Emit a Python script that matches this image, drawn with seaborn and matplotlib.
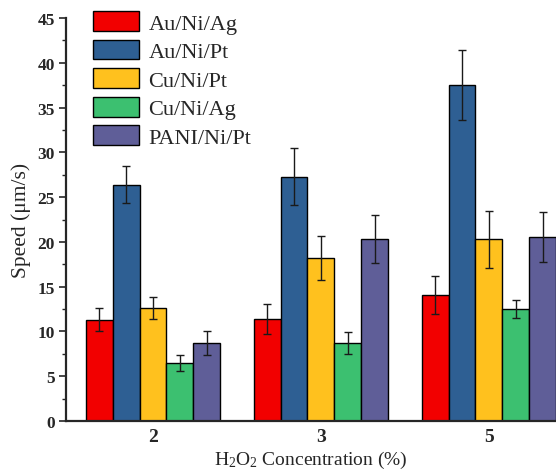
import numpy as np
import pandas as pd
import matplotlib
matplotlib.use("Agg")
import matplotlib.pyplot as plt
from matplotlib.ticker import MultipleLocator
import seaborn as sns

# ---- data ----
concentrations = ["2", "3", "5"]
materials = ["Au/Ni/Ag", "Au/Ni/Pt", "Cu/Ni/Pt", "Cu/Ni/Ag", "PANI/Ni/Pt"]
au_ni_ag = [11.3, 11.4, 14.1]
au_ni_pt = [26.4, 27.3, 37.5]
cu_ni_pt = [12.6, 18.2, 20.3]
cu_ni_ag = [6.5, 8.7, 12.5]
pani_ni_pt = [8.7, 20.3, 20.5]
au_ni_ag_err = [1.3, 1.7, 2.1]
au_ni_pt_err = [2.1, 3.2, 3.9]
cu_ni_pt_err = [1.2, 2.5, 3.2]
cu_ni_ag_err = [0.9, 1.2, 1.0]
pani_ni_pt_err = [1.3, 2.7, 2.8]
colors = ["#F20000", "#2E5F93", "#FFC11E", "#3CC070", "#5F5E98"]

values = [au_ni_ag, au_ni_pt, cu_ni_pt, cu_ni_ag, pani_ni_pt]
errors = [au_ni_ag_err, au_ni_pt_err, cu_ni_pt_err, cu_ni_ag_err, pani_ni_pt_err]

rows = []
for m, vals in zip(materials, values):
    for c, v in zip(concentrations, vals):
        rows.append({"conc": c, "speed": v, "material": m})
df = pd.DataFrame(rows)

sns.set_style("ticks")
plt.rcParams["font.family"] = ["Liberation Serif", "DejaVu Serif"]
plt.rcParams["mathtext.fontset"] = "custom"
plt.rcParams["mathtext.rm"] = "Liberation Serif"
plt.rcParams["mathtext.it"] = "Liberation Serif:italic"

fig = plt.figure(figsize=(5.56, 4.77), dpi=100)
ax = fig.add_axes([66/556, 1-422/477, 1-66/556, (422-19)/477])

sns.barplot(data=df, x="conc", y="speed", hue="material", order=concentrations,
            hue_order=materials, palette=colors, edgecolor="black", linewidth=1.0,
            width=0.8, errorbar=None, ax=ax, saturation=1)

for cont, errs in zip(ax.containers, errors):
    xs = [p.get_x() + p.get_width()/2 for p in cont.patches]
    hs = [p.get_height() for p in cont.patches]
    ax.errorbar(xs, hs, yerr=errs, fmt="none", ecolor="#1a1a1a", elinewidth=1.0,
                capsize=3, capthick=1.0, zorder=5)

ax.set_ylim(0, 45)
ax.set_xlim(-0.518, 2.40)
ax.yaxis.set_major_locator(MultipleLocator(5))
ax.yaxis.set_minor_locator(MultipleLocator(2.5))
ax.tick_params(axis="y", which="major", direction="out", length=5, width=1.2, labelsize=12.5, pad=3)
ax.tick_params(axis="y", which="minor", direction="out", length=3, width=1.0)
ax.tick_params(axis="x", length=0, labelsize=14, pad=5)
for lab in ax.get_xticklabels() + ax.get_yticklabels():
    lab.set_fontweight("bold")

sns.despine(ax=ax)
ax.spines["left"].set_linewidth(1.6)
ax.spines["bottom"].set_linewidth(1.6)

ax.set_xlabel(r"H$_2$O$_2$ Concentration (%)", fontsize=14, labelpad=3)
ax.set_ylabel("Speed (μm/s)", fontsize=15.5, labelpad=5)

handles, labels = ax.get_legend_handles_labels()
ax.legend(handles, labels, loc="upper left", bbox_to_anchor=(93/556, 1-12/477),
          bbox_transform=fig.transFigure, frameon=False, fontsize=16,
          handlelength=2.05, handleheight=1.0, handletextpad=0.45,
          labelspacing=0.27, borderpad=0, borderaxespad=0)

fig.savefig("out.png", dpi=100)
